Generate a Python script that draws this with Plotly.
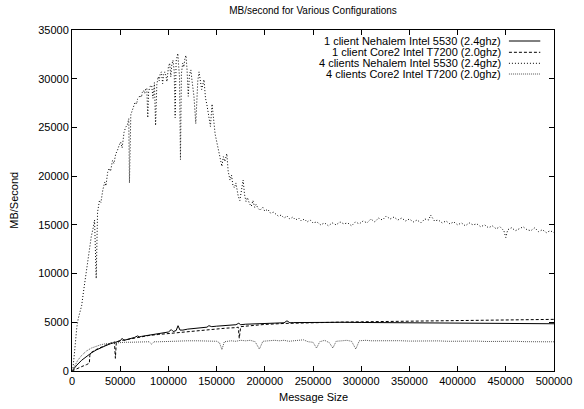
import plotly.graph_objects as go

# ---------------- data ----------------
series_names = [
    "1 client Nehalem Intel 5530 (2.4ghz)",
    "1 client Core2 Intel T7200 (2.0ghz)",
    "4 clients Nehalem Intel 5530 (2.4ghz)",
    "4 clients Core2 Intel T7200 (2.0ghz)",
]

# 1 client Nehalem (solid)
x_1n = [0, 2000, 5000, 10000, 15000, 20000, 25000, 30000, 35000, 40000, 45000, 50000,
        52000, 54000, 56000, 60000, 65000, 68000, 70000, 72000, 75000, 80000, 85000,
        90000, 95000, 100000, 103000, 105000, 108000, 110000, 112000, 115000, 120000,
        125000, 130000, 135000, 140000, 142000, 145000, 150000, 160000, 170000, 173000,
        175000, 180000, 190000, 200000, 210000, 220000, 223000, 226000, 230000, 240000,
        250000, 260000, 280000, 300000, 320000, 350000, 380000, 400000, 420000, 450000,
        480000, 500000]
y_1n = [0, 250, 600, 1100, 1500, 1850, 2150, 2400, 2600, 2800, 2950, 3100,
        3350, 3150, 3200, 3300, 3450, 3600, 3500, 3550, 3600, 3700, 3800,
        3850, 3900, 4000, 4250, 4050, 4150, 4650, 4200, 4200, 4300,
        4350, 4400, 4450, 4500, 4650, 4550, 4600, 4700, 4750, 4900,
        4750, 4800, 4850, 4900, 4920, 4950, 5150, 4950, 4970, 4990,
        5000, 5000, 5000, 4980, 4960, 4950, 4930, 4920, 4900, 4880,
        4860, 4850]

# 1 client Core2 (dashed)
x_1c = [0, 5000, 10000, 15000, 18000, 18500, 20000, 25000, 30000, 35000, 40000, 44000,
        45000, 46000, 50000, 60000, 70000, 80000, 90000, 100000, 110000, 120000, 130000,
        140000, 150000, 160000, 170000, 172500, 173500, 175000, 180000, 190000, 200000,
        220000, 250000, 280000, 300000, 350000, 400000, 450000, 500000]
y_1c = [0, 250, 450, 650, 800, 1600, 1900, 2200, 2450, 2650, 2850, 3000,
        1300, 3000, 3100, 3300, 3500, 3650, 3750, 3850, 3950, 4050, 4150,
        4250, 4350, 4400, 4450, 4500, 3350, 4550, 4600, 4700, 4780,
        4880, 4980, 5020, 5050, 5100, 5150, 5230, 5300]

# 4 clients Nehalem (dotted)
x_4n = [0, 1000, 2500, 4000, 5000, 6500, 8000, 10000, 12000, 14000, 16000, 18000, 20000,
        22000, 23400, 25100, 26500, 28500, 30000, 32000, 34000, 35200, 37000, 38600,
        40000, 42000, 43500, 45400, 47000, 49000, 50500, 52000, 54000, 55600, 57500,
        58900, 59600, 61000, 62500, 64000, 65500, 67000, 68000, 69100, 70500, 72000,
        73000, 74200, 75500, 76500, 77600, 78600, 79500, 81000, 82700, 84000, 85500,
        86700, 88000, 89400, 90500, 91500, 92800, 94000, 95000, 96200, 97500, 98500,
        100000, 101300, 102500, 103500, 104700, 106000, 107000, 108000, 109000, 109800,
        110500, 111500, 112500, 113500, 114800, 116000, 117000, 118200, 119300, 120600,
        121800, 123300, 124500, 125500, 126500, 128400, 129500, 130500, 131800, 133000,
        134500, 136900, 138500, 140000, 141500, 143600, 145300, 147000, 148500, 150400,
        152000, 153500, 155500, 157000, 158500, 160600, 162000, 163900, 165500, 167000,
        168500, 170000, 171500, 172500, 174100, 175500, 177500, 179000, 180500, 182000,
        184000, 186000, 187700, 189500, 191000, 193000, 195000, 197900, 200000, 203000,
        206000, 209000, 211400, 214000, 217000, 220000, 223000, 226000, 229000, 232000,
        235000, 238000, 241000, 244000, 247000, 250000, 254000, 258000, 262000, 266000,
        270000, 274000, 278000, 282000, 286000, 290000, 294000, 298000, 302000, 306000,
        310000, 314000, 318000, 322000, 326000, 330000, 334000, 338000, 342000, 346000,
        350000, 354000, 358000, 362000, 366000, 370000, 372000, 376000, 380000, 384000,
        388000, 392000, 396000, 400000, 404000, 408000, 412000, 416000, 420000, 424000,
        428000, 432000, 436000, 440000, 444000, 448000, 450000, 452000, 456000, 460000,
        464000, 468000, 472000, 476000, 480000, 484000, 488000, 492000, 496000, 500000]
y_4n = [0, 300, 1800, 3600, 4500, 5400, 6000, 6700, 8200, 9700, 11200, 12500, 13800,
        14700, 15500, 9500, 16300, 17500, 17300, 18600, 19400, 19000, 20400, 20800,
        20500, 21600, 21300, 22300, 22600, 23200, 23500, 22900, 24500, 25000, 25300,
        25900, 19300, 26300, 26800, 27100, 27600, 27400, 27900, 28000, 28300, 28100,
        28600, 28800, 28500, 29000, 29000, 26000, 28700, 29200, 29300, 28000, 29600,
        25200, 29400, 30200, 29800, 30500, 30700, 29500, 30400, 30700, 30300, 29700,
        31200, 31600, 30200, 31400, 31900, 30800, 26000, 31800, 32300, 32600,
        31500, 30200, 21700, 30500, 31600, 31200, 32000, 32400, 31000, 28200,
        30400, 30900, 29800, 29000, 28200, 25400, 28500, 29800, 30700, 29600,
        28900, 29900, 28000, 27300, 26500, 25100, 27400, 25800, 24300, 23400,
        22700, 21800, 21000, 22000, 21500, 22300, 20500, 19600, 20100, 19000,
        18800, 19300, 18200, 17900, 17500, 18300, 19600, 18100, 17400, 17800,
        17200, 16900, 17500, 16800, 17100, 16700, 16500, 16800, 16400, 16600,
        16200, 16300, 16100, 15900, 16000, 15700, 15900, 15600, 15800, 15500,
        15700, 15400, 15600, 15300, 15500, 15200, 15300, 15000, 15200, 14900,
        15200, 15000, 15300, 15100, 15200, 14900, 15300, 15100, 15400, 15200,
        15600, 15300, 15700, 15500, 15900, 15600, 15800, 15500, 15700, 15400,
        15600, 15300, 15500, 15200, 15600, 15500, 16000, 15400, 15500, 15200,
        15400, 15100, 15300, 15000, 15200, 14900, 15200, 15000, 15100, 14800,
        15000, 14700, 14900, 14600, 14800, 14400, 13700, 14500, 14700, 14400,
        14600, 14800, 14500, 14400, 14700, 14300, 14500, 14200, 14400, 14200]

# 4 clients Core2 (fine dotted, grey)
x_4c = [0, 3000, 6000, 10000, 15000, 20000, 25000, 30000, 35000, 40000, 45000, 50000,
        55000, 60000, 70000, 80000, 82700, 85000, 90000, 100000, 110000, 120000, 130000,
        140000, 150000, 153000, 155500, 158000, 165000, 170000, 175000, 180000, 185000,
        190000, 194400, 198000, 205000, 210000, 215000, 220000, 225000, 230000, 235000,
        240000, 245000, 250000, 253700, 257000, 262000, 267000, 270600, 274000, 280000,
        285000, 290000, 294400, 298000, 305000, 310000, 320000, 330000, 340000, 350000,
        360000, 370000, 380000, 390000, 400000, 410000, 420000, 430000, 440000, 450000,
        460000, 470000, 480000, 490000, 500000]
y_4c = [0, 600, 1100, 1600, 2050, 2350, 2550, 2700, 2800, 2850, 2900, 2900,
        2950, 2950, 3000, 3000, 2750, 3000, 3000, 3050, 3050, 3100, 3100,
        3100, 3050, 2900, 2200, 3000, 3100, 3050, 3150, 3100, 3150,
        3000, 2250, 3050, 3100, 3150, 3100, 3150, 3050, 3100, 3150,
        3200, 3000, 2950, 2350, 3000, 3150, 2900, 2350, 3050, 3100,
        3150, 3050, 2250, 3100, 3150, 3100, 3120, 3080, 3110, 3070,
        3100, 3060, 3090, 3050, 3080, 3040, 3070, 3030, 3060, 3020,
        3050, 3010, 3040, 3000, 3000]

x_ticks = [0, 50000, 100000, 150000, 200000, 250000, 300000, 350000, 400000, 450000, 500000]
y_ticks = [0, 5000, 10000, 15000, 20000, 25000, 30000, 35000]

# ---------------- styles ----------------
styles = [
    dict(color="black", width=1, dash="solid"),
    dict(color="black", width=1, dash="3px,2px"),
    dict(color="black", width=1, dash="1px,2px"),
    dict(color="#555555", width=1, dash="1px,1px"),
]
data = [(x_1n, y_1n), (x_1c, y_1c), (x_4n, y_4n), (x_4c, y_4c)]

FONT = "Liberation Sans, Arial, Helvetica, sans-serif"

fig = go.Figure()
for (xs, ys), name, st in zip(data, series_names, styles):
    fig.add_trace(go.Scatter(x=xs, y=ys, mode="lines", name=name, line=st,
                             showlegend=False, hoverinfo="skip"))

axis_common = dict(
    showgrid=False, zeroline=False, showline=True, linecolor="black", linewidth=1,
    mirror="allticks", ticks="inside", ticklen=5, tickcolor="black", tickwidth=1,
    tickfont=dict(family=FONT, size=11, color="black"),
)

fig.update_layout(
    width=584, height=409,
    margin=dict(l=72, r=20, t=30, b=38),
    paper_bgcolor="white", plot_bgcolor="white",
    font=dict(family=FONT, size=11, color="black"),
    title=dict(text="MB/second for Various Configurations", x=0.5, xref="paper",
               y=1 - 10 / 409, yref="container", yanchor="middle", xanchor="center",
               font=dict(family=FONT, size=10, color="black")),
    xaxis=dict(range=[0, 500000], tickvals=x_ticks, ticktext=[str(v) for v in x_ticks],
               **axis_common),
    yaxis=dict(range=[0, 35000], tickvals=y_ticks, ticktext=[str(v) for v in y_ticks],
               **axis_common),
)

# axis titles
fig.add_annotation(text="Message Size", xref="paper", yref="paper", x=0.5,
                   y=(371 - 397) / 341, showarrow=False, xanchor="center",
                   yanchor="middle", font=dict(family=FONT, size=11, color="black"))
fig.add_annotation(text="MB/Second", xref="paper", yref="paper", x=(12 - 72) / 492,
                   y=0.5, showarrow=False, textangle=-90, xanchor="center",
                   yanchor="middle", font=dict(family=FONT, size=11, color="black"))

# gnuplot-style legend: text right-aligned, line sample to the right
legend_rows_px = [41, 52.3, 63.3, 74]
for name, st, py in zip(series_names, styles, legend_rows_px):
    yp = (371 - py) / 341
    fig.add_annotation(text=name, xref="paper", yref="paper", x=(512 - 72) / 492,
                       y=yp, showarrow=False, xanchor="right", yanchor="middle",
                       font=dict(family=FONT, size=11, color="black"))
    fig.add_shape(type="line", xref="paper", yref="paper",
                  x0=(518 - 72) / 492, x1=(550 - 72) / 492, y0=yp, y1=yp,
                  line=st)

fig.write_html("out.html", config={"displayModeBar": False},
               post_script="document.body.style.margin='0';document.body.style.overflow='hidden';")
